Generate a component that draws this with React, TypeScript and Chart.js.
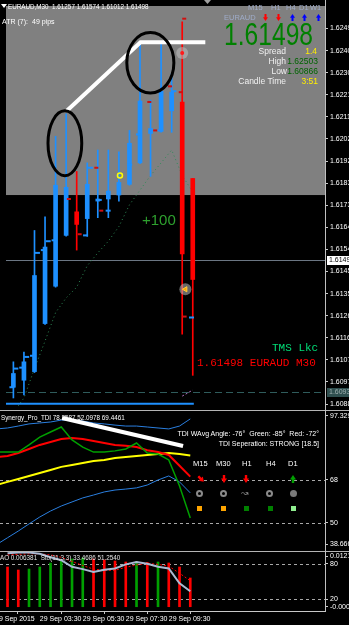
import React, { useEffect, useRef } from "react";
import { Chart, registerables } from "chart.js";

Chart.register(...registerables);

const FONT = "Liberation Sans";
const MONO = "Liberation Mono";

// shared bar-index range (bar 0 = 29 Sep 02:00, M30 bars)
const X_MIN = -0.7;
const X_MAX = 29.533;

// ---------- main price panel (EURAUD M30) ----------
const bars = [0, 1, 2, 3, 4, 5, 6, 7, 8, 9, 10, 11, 12, 13, 14, 15, 16, 17];
const candleOpen = [1.60952, 1.60982, 1.61019, 1.61225, 1.61385, 1.61603, 1.61704, 1.61675, 1.6175, 1.61759, 1.61776, 1.61822, 1.61914, 1.6204, 1.62049, 1.62137, 1.62175, 1.61847];
const candleHigh = [1.61061, 1.61103, 1.61624, 1.61683, 1.62028, 1.62124, 1.61877, 1.61914, 1.61969, 1.61969, 1.61961, 1.62053, 1.62431, 1.62183, 1.62431, 1.62297, 1.62519, 1.61847];
const candleLow = [1.60906, 1.60919, 1.61015, 1.61221, 1.61381, 1.616, 1.6154, 1.61599, 1.61679, 1.61679, 1.6175, 1.61818, 1.6191, 1.61856, 1.62045, 1.62045, 1.61179, 1.61003];
const candleClose = [1.61011, 1.61061, 1.61431, 1.61553, 1.61818, 1.61809, 1.6165, 1.61822, 1.61759, 1.61793, 1.6183, 1.61998, 1.62179, 1.62061, 1.62221, 1.62217, 1.61524, 1.61414];

const maValues = [1.60843, 1.60906, 1.61032, 1.6115, 1.61272, 1.61335, 1.61381, 1.61473, 1.61528, 1.61578, 1.61641, 1.61734, 1.61797, 1.6186, 1.61914, 1.61969, 1.6186, 1.61788];
const pinkBars = [16, 17];
const pinkValues = [1.60914, 1.6094];

const blueTickBars = [-0.14, 0.23, 0.79, 1.26, 1.81, 2.28, 2.84, 3.3, 3.86, 6.84, 7.3, 8.14, 8.98, 11.02, 11.86, 13.91, 15.21, 16.88];
const blueTickPrices = [1.60952, 1.61032, 1.61036, 1.61082, 1.61087, 1.61528, 1.6154, 1.61578, 1.61582, 1.61603, 1.61893, 1.61755, 1.61709, 1.61906, 1.62036, 1.62053, 1.62221, 1.61251];
const redTickBars = [5.26, 6.28, 7.86, 8.33, 12.88, 13.44, 14.84, 15.86, 16.19, 16.23];
const redTickPrices = [1.61759, 1.61608, 1.61893, 1.61709, 1.62175, 1.62053, 1.62242, 1.62217, 1.62532, 1.61255];

const haloBars = [16, 16.3];
const haloPrices = [1.62385, 1.61372];
const ringBars = [10.1];
const ringPrices = [1.6186];

const trendBars = [5.07, 12.05, 18.19];
const trendPrices = [1.62137, 1.62431, 1.62431];
const lowLineBars = [-0.7, 17.1];
const lowLinePrices = [1.60881, 1.60881];

const ellipseMarks = [
  { bar: 4.88, price: 1.61998, barRadius: 1.6, priceRadius: 0.00139 },
  { bar: 12.98, price: 1.62343, barRadius: 2.23, priceRadius: 0.0013 },
];

const currentBid = 1.61498;
const dashLevel = 1.60931;
const grayFloor = 1.61776;
const PRICE_MAX = 1.625864;
const PRICE_MIN = 1.608716;
const priceTicks = [1.6249, 1.623953, 1.623006, 1.622059, 1.621112, 1.620165, 1.619218, 1.618271, 1.617324, 1.616376, 1.615429, 1.614482, 1.613535, 1.612588, 1.611641, 1.610694, 1.609747, 1.6088];

// ---------- TDI panel ----------
const tdiBars = [-1, 0, 1, 2, 3, 4, 5, 6, 7, 8, 9, 10, 11, 12, 13, 14, 15, 16, 17];
const tdiUpper = [89.4, 89.8, 90.6, 91.5, 91.9, 92.3, 93.1, 93.1, 92.7, 91.9, 91.5, 91.0, 90.6, 90.6, 90.2, 89.8, 89.4, 90.6, 93.6];
const tdiLower = [41.0, 43.8, 46.6, 49.6, 52.5, 55.0, 57.1, 58.8, 60.5, 61.7, 63.0, 63.8, 64.2, 64.7, 65.9, 68.0, 69.7, 67.2, 62.6];
const tdiGreen = [79.7, 79.7, 79.7, 82.7, 86.0, 88.1, 90.2, 84.8, 81.8, 79.7, 79.7, 80.2, 81.0, 83.5, 79.3, 78.9, 76.4, 65.5, 52.1];
const tdiRed = [77.6, 78.1, 79.3, 81.0, 82.7, 83.9, 85.2, 85.6, 85.2, 84.3, 83.5, 82.7, 82.3, 81.8, 80.5, 79.7, 78.5, 74.0, 69.4];
const tdiYellow = [65.9, 67.2, 68.4, 69.7, 70.9, 72.2, 73.5, 74.3, 75.1, 76.0, 76.4, 77.2, 77.6, 78.1, 78.5, 78.9, 79.3, 78.9, 78.3];
const tdiTrendBars = [5.07, 16.33];
const tdiTrendValues = [93.98, 82.25];
const TDI_MAX = 97.3295;
const TDI_MIN = 38.6667;
const tdiLevels = [68, 50];
const tdiScaleLabels = ["97.3295", "68", "50", "38.6667"];

// ---------- AO / Stochastic panel ----------
const aoValues = [0.00882, 0.00815, 0.00837, 0.00882, 0.00971, 0.01015, 0.0106, 0.01082, 0.0106, 0.01037, 0.01015, 0.00993, 0.01004, 0.00982, 0.00993, 0.00971, 0.00882, 0.00638];
const stochK = [98, 99, 99, 97, 91, 86, 75, 71, 66, 70, 72, 79, 83, 80, 75, 72, 47, 33.47];
const stochD = [95, 96, 97, 97, 95, 91, 84, 77, 71, 69, 69, 74, 78, 81, 79, 76, 64, 51.25];
const AO_MAX = 0.01215;
const AO_MIN = -0.00095;
const stochLevels = [80, 20];
const subScaleLabels = ["0.01215", "80", "20", "-0.00095"];

const timeTickBars = [-1.16, 3, 7, 11, 15];
const timeLabels = ["29 Sep 2015", "29 Sep 03:30", "29 Sep 05:30", "29 Sep 07:30", "29 Sep 09:30"];

const BLUE = "#1e90ff";
const RED = "#ff0000";

const pts = (xs: number[], ys: number[]) => xs.map((x, i) => ({ x, y: ys[i] }));

const tickFont = { family: FONT, size: 7 };

function yAxis(extra: any) {
  return {
    position: "right",
    afterFit: (a: any) => {
      a.width = 24;
      a.paddingTop = 0;
      a.paddingBottom = 0;
    },
    grid: { drawOnChartArea: false, tickLength: 3, color: "#c8c8c8" },
    border: { display: false },
    ticks: { color: "#ffffff", font: tickFont, padding: 2, autoSkip: false },
    ...extra,
  };
}

function hiddenX() {
  return { type: "linear", min: X_MIN, max: X_MAX, offset: false, display: false };
}

function levelPlugin(levels: number[], axisId: string) {
  return {
    id: "levels",
    beforeDatasetsDraw(chart: any) {
      const { ctx, chartArea: a } = chart;
      const y = chart.scales[axisId];
      ctx.save();
      ctx.strokeStyle = "#a8a8a8";
      ctx.lineWidth = 1;
      ctx.setLineDash([3, 3]);
      levels.forEach((lv) => {
        const py = Math.round(y.getPixelForValue(lv)) + 0.5;
        ctx.beginPath();
        ctx.moveTo(a.left, py);
        ctx.lineTo(a.right, py);
        ctx.stroke();
      });
      ctx.restore();
    },
  };
}

const mainDecor = {
  id: "mainDecor",
  beforeDatasetsDraw(chart: any) {
    const { ctx, chartArea: a, scales } = chart;
    const y = scales.y;
    ctx.save();
    ctx.fillStyle = "#808080";
    const yf = y.getPixelForValue(grayFloor);
    ctx.fillRect(a.left, a.top, a.right - a.left, yf - a.top);
    const yb = Math.round(y.getPixelForValue(currentBid)) + 0.5;
    ctx.strokeStyle = "#6b7683";
    ctx.lineWidth = 1;
    ctx.beginPath();
    ctx.moveTo(a.left, yb);
    ctx.lineTo(a.right, yb);
    ctx.stroke();
    const yd = Math.round(y.getPixelForValue(dashLevel)) + 0.5;
    ctx.strokeStyle = "#2f5c5c";
    ctx.setLineDash([7, 4]);
    ctx.beginPath();
    ctx.moveTo(a.left, yd);
    ctx.lineTo(a.right, yd);
    ctx.stroke();
    ctx.restore();
  },
  afterDatasetsDraw(chart: any) {
    const { ctx, scales } = chart;
    const { x, y } = scales;
    ctx.save();
    ctx.strokeStyle = "#000000";
    ctx.lineWidth = 3;
    ellipseMarks.forEach((e) => {
      const cx = x.getPixelForValue(e.bar);
      const cy = y.getPixelForValue(e.price);
      const rx = Math.abs(x.getPixelForValue(e.bar + e.barRadius) - cx);
      const ry = Math.abs(y.getPixelForValue(e.price + e.priceRadius) - cy);
      ctx.beginPath();
      ctx.ellipse(cx, cy, rx, ry, 0, 0, Math.PI * 2);
      ctx.stroke();
    });
    ctx.restore();
  },
  afterDraw(chart: any) {
    const { ctx, chartArea: a, scales } = chart;
    const y = scales.y;
    const box = (val: number, text: string, bg: string, fg: string) => {
      const py = y.getPixelForValue(val);
      ctx.fillStyle = bg;
      ctx.fillRect(a.right + 2, Math.round(py) - 4, 24, 9);
      ctx.fillStyle = fg;
      ctx.font = `7px ${FONT}`;
      ctx.textBaseline = "middle";
      ctx.textAlign = "left";
      ctx.fillText(text, a.right + 4, Math.round(py) + 0.5);
    };
    ctx.save();
    box(currentBid, currentBid.toFixed(5).slice(0, 6), "#ffffff", "#000000");
    box(dashLevel, dashLevel.toFixed(4), "#2f4f4f", "#9fb0b0");
    ctx.restore();
  },
};

function T(p: { x?: number; r?: number; y: number; s: number; c: string; t: string; sx?: number; f?: string; w?: number }) {
  const style: any = {
    position: "absolute",
    top: p.y - 0.49 * p.s,
    fontSize: p.s,
    lineHeight: 1,
    color: p.c,
    fontFamily: p.f || FONT,
    fontWeight: p.w || 400,
    whiteSpace: "pre",
  };
  if (p.r !== undefined) {
    style.right = 349 - p.r;
    style.transformOrigin = "right center";
  } else {
    style.left = p.x;
    style.transformOrigin = "left center";
  }
  if (p.sx && p.sx !== 1) style.transform = `scaleX(${p.sx})`;
  return <div style={style}>{p.t}</div>;
}

function Arrow({ x, y, dir, color, w = 6, h = 8 }: { x: number; y: number; dir: string; color: string; w?: number; h?: number }) {
  const rot = dir === "up" ? 180 : dir === "downright" ? -45 : 0;
  return (
    <svg
      width={w}
      height={h}
      viewBox={`0 0 ${w} ${h}`}
      style={{ position: "absolute", left: x - w / 2, top: y - h / 2, transform: `rotate(${rot}deg)` }}
    >
      <rect x={w * 0.3} y={0} width={w * 0.4} height={h * 0.55} fill={color} />
      <polygon points={`0,${h * 0.45} ${w},${h * 0.45} ${w / 2},${h}`} fill={color} />
    </svg>
  );
}

function Ring({ x, y, filled }: { x: number; y: number; filled?: boolean }) {
  return (
    <div
      style={{
        position: "absolute",
        left: x - 3.5,
        top: y - 3.5,
        width: filled ? 7 : 3,
        height: filled ? 7 : 3,
        borderRadius: "50%",
        border: filled ? "none" : "2px solid #8a8a8a",
        background: filled ? "#7a7a7a" : "transparent",
      }}
    />
  );
}

function Sq({ x, y, c }: { x: number; y: number; c: string }) {
  return <div style={{ position: "absolute", left: x - 2.5, top: y - 2.5, width: 5, height: 5, background: c }} />;
}

export default function App() {
  const mainRef = useRef<HTMLCanvasElement>(null);
  const tdiRef = useRef<HTMLCanvasElement>(null);
  const subRef = useRef<HTMLCanvasElement>(null);

  useEffect(() => {
    Chart.defaults.font.family = FONT;
    const charts: Chart[] = [];
    const candleColor = (ctx: any) => (candleClose[ctx.dataIndex] >= candleOpen[ctx.dataIndex] ? BLUE : RED);

    charts.push(
      new Chart(mainRef.current as HTMLCanvasElement, {
        type: "bar",
        data: {
          datasets: [
            { type: "line", data: pts(trendBars, trendPrices), borderColor: "#ffffff", borderWidth: 4, pointRadius: 0, order: 0 } as any,
            { type: "line", data: pts([haloBars[0]], [haloPrices[0]]), showLine: false, pointRadius: 2, pointBackgroundColor: "#ff1a1a", pointBorderWidth: 0, order: 1 } as any,
            { type: "line", data: pts([haloBars[1]], [haloPrices[1]]), showLine: false, pointStyle: "triangle", rotation: -90, pointRadius: 3, pointBackgroundColor: "#ffa500", pointBorderColor: "#ffd040", pointBorderWidth: 1, order: 1 } as any,
            { type: "line", data: pts(haloBars, haloPrices), showLine: false, pointRadius: 6, pointBackgroundColor: "rgba(190,190,190,0.55)", pointBorderWidth: 0, order: 2 } as any,
            { type: "line", data: pts(ringBars, ringPrices), showLine: false, pointRadius: 2.5, pointBackgroundColor: "rgba(0,0,0,0)", pointBorderColor: "#ffff00", pointBorderWidth: 1.5, order: 3 } as any,
            { type: "line", data: pts(blueTickBars, blueTickPrices), showLine: false, pointStyle: "line", pointRadius: 2.5, pointBorderColor: BLUE, pointBorderWidth: 2, order: 4 } as any,
            { type: "line", data: pts(redTickBars, redTickPrices), showLine: false, pointStyle: "line", pointRadius: 2, pointBorderColor: "#d01010", pointBorderWidth: 2, order: 4 } as any,
            {
              type: "bar",
              data: bars.map((b, i) => ({ x: b, y: [candleOpen[i], candleClose[i]] })),
              backgroundColor: candleColor,
              borderWidth: 0,
              barThickness: 4,
              grouped: false,
              minBarLength: 1,
              order: 5,
            } as any,
            {
              type: "bar",
              data: bars.map((b, i) => ({ x: b, y: [candleLow[i], candleHigh[i]] })),
              backgroundColor: candleColor,
              borderWidth: 0,
              barThickness: 1,
              grouped: false,
              order: 6,
            } as any,
            { type: "line", data: pts(lowLineBars, lowLinePrices), borderColor: BLUE, borderWidth: 2, pointRadius: 0, order: 7 } as any,
            { type: "line", data: pts(pinkBars, pinkValues), borderColor: "#b070c0", borderWidth: 1, borderDash: [2, 2], pointRadius: 0, order: 8 } as any,
            { type: "line", data: pts(bars, maValues), borderColor: "#2e8b57", borderWidth: 1, borderDash: [1, 3], pointRadius: 0, order: 9 } as any,
          ],
        },
        options: {
          animation: false,
          responsive: false,
          events: [],
          layout: { padding: { left: 0, right: 0, top: 0, bottom: 3 } },
          plugins: { legend: { display: false }, tooltip: { enabled: false } },
          scales: {
            x: hiddenX(),
            y: yAxis({
              min: PRICE_MIN,
              max: PRICE_MAX,
              afterBuildTicks: (a: any) => {
                a.ticks = priceTicks.map((v) => ({ value: v }));
              },
              ticks: { color: "#ffffff", font: tickFont, padding: 2, autoSkip: false, callback: (v: any) => Number(v).toFixed(4) },
            }),
          } as any,
        },
        plugins: [mainDecor],
      } as any)
    );

    charts.push(
      new Chart(tdiRef.current as HTMLCanvasElement, {
        type: "line",
        data: {
          datasets: [
            { data: pts(tdiTrendBars, tdiTrendValues), borderColor: "#ffffff", borderWidth: 4, order: 0 },
            { data: pts(tdiBars, tdiGreen), borderColor: "#00a000", borderWidth: 1.5, order: 1 },
            { data: pts(tdiBars, tdiRed), borderColor: RED, borderWidth: 2, order: 2 },
            { data: pts(tdiBars, tdiYellow), borderColor: "#ffff00", borderWidth: 2, order: 3 },
            { data: pts(tdiBars, tdiUpper), borderColor: "#2a7fe0", borderWidth: 1, order: 4 },
            { data: pts(tdiBars, tdiLower), borderColor: "#2a7fe0", borderWidth: 1, order: 5 },
          ] as any,
        },
        options: {
          animation: false,
          responsive: false,
          events: [],
          elements: { point: { radius: 0 }, line: { tension: 0 } },
          layout: { padding: { left: 0, right: 0, top: 0, bottom: 1 } },
          plugins: { legend: { display: false }, tooltip: { enabled: false } },
          scales: {
            x: hiddenX(),
            y: yAxis({
              min: TDI_MIN,
              max: TDI_MAX,
              afterBuildTicks: (a: any) => {
                const inset = (TDI_MAX - TDI_MIN) * 0.04;
                a.ticks = [TDI_MAX - inset, ...tdiLevels, TDI_MIN + inset].map((v) => ({ value: v }));
              },
              ticks: { color: "#ffffff", font: tickFont, padding: 2, autoSkip: false, callback: (_v: any, i: number) => tdiScaleLabels[i] },
            }),
          } as any,
        },
        plugins: [levelPlugin(tdiLevels, "y")],
      } as any)
    );

    charts.push(
      new Chart(subRef.current as HTMLCanvasElement, {
        type: "bar",
        data: {
          datasets: [
            { type: "line", data: pts(bars, stochK), borderColor: "#a9b9d2", borderWidth: 2, pointRadius: 0, yAxisID: "y", order: 0 } as any,
            { type: "line", data: pts(bars, stochD), borderColor: RED, borderWidth: 1, borderDash: [2, 2], pointRadius: 0, yAxisID: "y", order: 1 } as any,
            {
              type: "bar",
              data: pts(bars, aoValues),
              yAxisID: "ao",
              backgroundColor: (ctx: any) => {
                const i = ctx.dataIndex;
                return i > 0 && aoValues[i] > aoValues[i - 1] ? "#00a000" : RED;
              },
              borderWidth: 0,
              barThickness: 2,
              grouped: false,
              order: 2,
            } as any,
          ],
        },
        options: {
          animation: false,
          responsive: false,
          events: [],
          layout: { padding: 0 },
          plugins: { legend: { display: false }, tooltip: { enabled: false } },
          scales: {
            x: {
              type: "linear",
              min: X_MIN,
              max: X_MAX,
              offset: false,
              position: "bottom",
              afterBuildTicks: (a: any) => {
                a.ticks = timeTickBars.map((v) => ({ value: v }));
              },
              afterFit: (a: any) => {
                a.height = 14;
                a.paddingLeft = 0;
                a.paddingRight = 0;
              },
              ticks: { color: "#ffffff", font: tickFont, align: "start", maxRotation: 0, minRotation: 0, autoSkip: false, padding: 1, callback: (_v: any, i: number) => timeLabels[i] },
              grid: { drawOnChartArea: false, tickLength: 3, color: "#c8c8c8" },
              border: { display: true, color: "#c8c8c8" },
            },
            ao: { type: "linear", min: AO_MIN, max: AO_MAX, display: false, position: "left" },
            y: yAxis({
              min: 0,
              max: 100,
              afterBuildTicks: (a: any) => {
                const inset = 100 * 0.068;
                a.ticks = [100 - inset, ...stochLevels, inset].map((v) => ({ value: v }));
              },
              ticks: { color: "#ffffff", font: tickFont, padding: 2, autoSkip: false, callback: (_v: any, i: number) => subScaleLabels[i] },
            }),
          } as any,
        },
        plugins: [levelPlugin(stochLevels, "y")],
      } as any)
    );

    return () => charts.forEach((c) => c.destroy());
  }, []);

  const tfColor = "#9eabc8";

  return (
    <div style={{ position: "fixed", left: 0, top: 0, width: 349, height: 625, background: "#000", overflow: "hidden", fontFamily: FONT }}>
      <canvas ref={mainRef} width={349} height={412} style={{ position: "absolute", left: 0, top: 0, width: 349, height: 412 }} />
      <canvas ref={tdiRef} width={349} height={141} style={{ position: "absolute", left: 0, top: 410, width: 349, height: 141 }} />
      <canvas ref={subRef} width={349} height={73} style={{ position: "absolute", left: 0, top: 552, width: 349, height: 73 }} />

      {/* separators and axis line */}
      <div style={{ position: "absolute", left: 0, top: 410, width: 349, height: 1, background: "#b4b4b4" }} />
      <div style={{ position: "absolute", left: 0, top: 551, width: 349, height: 1, background: "#b4b4b4" }} />
      <div style={{ position: "absolute", left: 325, top: 0, width: 1, height: 611, background: "#c0c0c0" }} />

      {/* main panel texts */}
      <svg width={6} height={4} style={{ position: "absolute", left: 1, top: 4 }}>
        <polygon points="0,0 6,0 3,4" fill="#ffffff" />
      </svg>
      <svg width={7} height={4} style={{ position: "absolute", left: 204, top: 0 }}>
        <polygon points="0,0 7,0 3.5,4" fill="#a0a0a0" />
      </svg>
      <T x={8} y={6} s={7} c="#ffffff" t="EURAUD,M30  1.61257 1.61574 1.61012 1.61498" sx={0.9} />
      <T x={2} y={21} s={7} c="#ffffff" t="ATR (7):" />
      <T x={32} y={21} s={7} c="#ffffff" t="49 pips" />

      <T x={248} y={8} s={7.5} c={tfColor} t="M15" />
      <T x={271} y={8} s={7.5} c={tfColor} t="H1" />
      <T x={286} y={8} s={7.5} c={tfColor} t="H4" />
      <T x={299} y={8} s={7.5} c={tfColor} t="D1" />
      <T x={310} y={8} s={7.5} c={tfColor} t="W1" />
      <Arrow x={265} y={17} dir="down" color="#ff0000" w={5} h={7} />
      <Arrow x={278} y={17} dir="down" color="#ff0000" w={5} h={7} />
      <Arrow x={292} y={17} dir="up" color="#0000ff" w={5} h={7} />
      <Arrow x={304} y={17} dir="up" color="#0000ff" w={5} h={7} />
      <Arrow x={318} y={17} dir="up" color="#0000ff" w={5} h={7} />
      <T x={224} y={18} s={7.5} c={tfColor} t="EURAUD" />
      <T x={224} y={33.5} s={32} c="#008000" t="1.61498" sx={0.77} />
      <T r={286} y={51} s={8.5} c="#f0f0f0" t="Spread" />
      <T r={317} y={51} s={8.5} c="#ffee00" t="1.4" />
      <T r={286} y={61} s={8.5} c="#f0f0f0" t="High" />
      <T r={318} y={61} s={8.5} c="#006400" t="1.62503" />
      <T r={287} y={71} s={8.5} c="#f0f0f0" t="Low" />
      <T r={318} y={71} s={8.5} c="#006400" t="1.60866" />
      <T r={286} y={81} s={8.5} c="#f0f0f0" t="Candle Time" />
      <T r={318} y={81} s={8.5} c="#ffee00" t="3:51" />

      <T x={142} y={219} s={15} c="#2ea02e" t="+100" />
      <T x={272} y={348} s={11} c="#00dd77" t="TMS Lkc" f={MONO} />
      <T x={197} y={363} s={11} c="#ff0000" t="1.61498 EURAUD M30" f={MONO} />

      {/* TDI panel texts */}
      <T x={1} y={417} s={7} c="#ffffff" t="Synergy_Pro_TDI 78.2587 52.0978 69.4461" sx={0.9} />
      <T r={319} y={433} s={7} c="#ffffff" t="TDI WAvg Angle: -76°  Green: -85°  Red: -72°" />
      <T r={319} y={443} s={7} c="#ffffff" t="TDI Seperation: STRONG [18.5]" />
      <T x={193} y={464} s={7.5} c="#ffffff" t="M15" />
      <T x={216} y={464} s={7.5} c="#ffffff" t="M30" />
      <T x={242} y={464} s={7.5} c="#ffffff" t="H1" />
      <T x={266} y={464} s={7.5} c="#ffffff" t="H4" />
      <T x={288} y={464} s={7.5} c="#ffffff" t="D1" />
      <Arrow x={201} y={479} dir="downright" color="#ff0000" w={6} h={8} />
      <Arrow x={223.5} y={479} dir="down" color="#ff0000" w={6} h={8} />
      <Arrow x={246} y={479} dir="down" color="#ff0000" w={6} h={8} />
      <Arrow x={292.5} y={479} dir="up" color="#00a000" w={6} h={8} />
      <Ring x={199} y={493} />
      <Ring x={223} y={493} />
      <T x={241} y={493} s={9} c="#8a8a8a" t="↝" />
      <Ring x={269} y={493} />
      <Ring x={293} y={493} filled />
      <Sq x={199} y={508} c="#ffa500" />
      <Sq x={223} y={508} c="#ffa500" />
      <Sq x={246} y={508} c="#008000" />
      <Sq x={270} y={508} c="#008000" />
      <Sq x={293} y={508} c="#90ee90" />

      {/* AO / Stochastic panel */}
      <T x={0} y={557} s={7} c="#e0e0e0" t="AO 0.006381  Sto(11,3,3) 33.4686 51.2540" sx={0.9} />
    </div>
  );
}
